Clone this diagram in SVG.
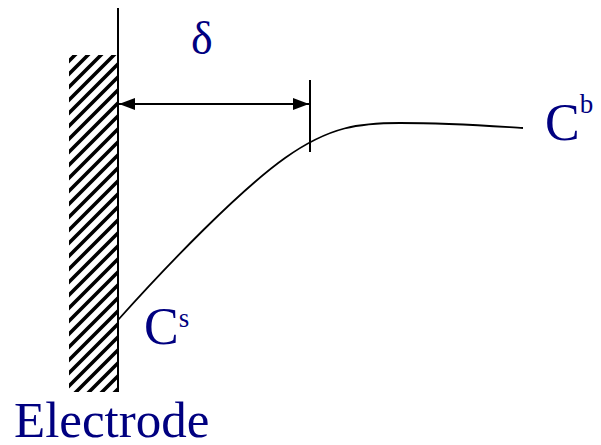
<svg xmlns="http://www.w3.org/2000/svg" width="601" height="445" viewBox="0 0 601 445">
<style>
.ln{stroke:#000;stroke-width:2;fill:none}
.crv{stroke:#000;stroke-width:1.8;fill:none}
.lbl{fill:#000080}
</style>
<defs>
<pattern id="hatch" patternUnits="userSpaceOnUse" x="0" y="0" width="13" height="13">
<rect x="0" y="0" width="13" height="13" fill="#fff"/>
<path d="M-3,16 L16,-3 M-3,3 L3,-3 M10,16 L16,10" stroke="#000" stroke-width="3.6" fill="none"/>
</pattern>
<marker id="ah" markerWidth="16" markerHeight="12" refX="16" refY="6" orient="auto-start-reverse" markerUnits="userSpaceOnUse">
<path d="M0,0 L16,6 L0,12 Z" fill="#000"/>
</marker>
</defs>
<g id="electrode">
<rect x="69" y="55" width="49" height="337" fill="url(#hatch)"/>
<line class="ln" x1="118" y1="8" x2="118" y2="392"/>
<text class="lbl" font-family="'Liberation Serif','DejaVu Serif',serif" x="14" y="437" font-size="51">Electrode</text>
</g>
<g id="connectors">
<line class="ln" x1="119" y1="104" x2="309" y2="104" marker-start="url(#ah)" marker-end="url(#ah)"/>
<line class="ln" x1="310" y1="80" x2="310" y2="152"/>
<path class="crv" d="M118,320 C170,262 240,190 285,158 C330,126 360,123 400,123 C450,123 490,126 523,128"/>
</g>
<g id="delta">
<text class="lbl" font-family="'Liberation Serif','DejaVu Serif',serif" x="191" y="54" font-size="46">δ</text>
</g>
<g id="cb">
<text class="lbl" font-family="'Liberation Serif','DejaVu Serif',serif" x="545" y="140" font-size="52">C<tspan font-size="27" dy="-27">b</tspan></text>
</g>
<g id="cs">
<text class="lbl" font-family="'Liberation Serif','DejaVu Serif',serif" x="144" y="344" font-size="52">C<tspan font-size="27" dy="-17">s</tspan></text>
</g>
</svg>
